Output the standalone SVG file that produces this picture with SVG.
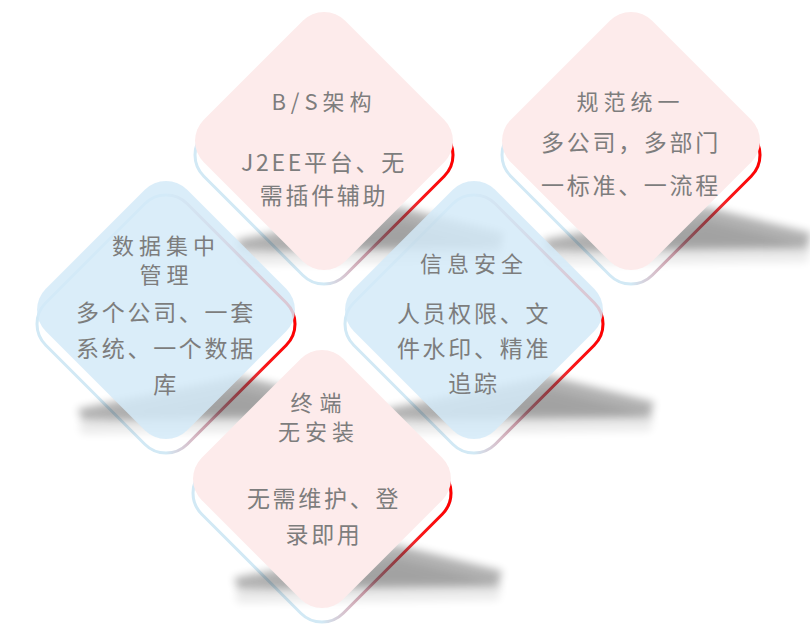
<svg xmlns="http://www.w3.org/2000/svg" xmlns:xlink="http://www.w3.org/1999/xlink" width="810" height="640" viewBox="0 0 810 640">
<style>
.t{font-family:"Noto Sans CJK SC","Noto Sans",sans-serif;fill:#7d7d7d;text-anchor:middle}
.ti{font-size:22px;letter-spacing:5px}
.tw{font-size:22px;letter-spacing:7px}
.b{font-size:23px;letter-spacing:2.7px}
.pk{fill:#fdebeb}
.bl{fill:#d3eaf8;fill-opacity:0.85}
.bk{fill:#ffffff;stroke:#d2e9f5;stroke-width:3}
.rd{fill:none;stroke:url(#rg);stroke-width:3}
.sh{fill:#000;opacity:0.3;filter:url(#blur)}
.sh2{fill:#000;opacity:0.08;filter:url(#blur)}
</style>
<defs>
<path id="dm" d="M-21.21,-120.21 A30,30 0 0 1 21.21,-120.21 L120.21,-21.21 A30,30 0 0 1 120.21,21.21 L21.21,120.21 A30,30 0 0 1 -21.21,120.21 L-120.21,21.21 A30,30 0 0 1 -120.21,-21.21 Z"/>
<path id="shp" d="M-88,99 L75,66 L180,92 L176,107 L-84,110 Z"/>
<linearGradient id="rg" gradientUnits="userSpaceOnUse" x1="0" y1="0" x2="130" y2="0">
<stop offset="0" stop-color="#ff0000" stop-opacity="0"/>
<stop offset="0.35" stop-color="#e01a2a" stop-opacity="0.35"/>
<stop offset="0.75" stop-color="#ff0000" stop-opacity="0.9"/>
<stop offset="1" stop-color="#ff0000" stop-opacity="1"/>
</linearGradient>
<filter id="blur" x="-20%" y="-80%" width="140%" height="260%"><feGaussianBlur stdDeviation="4"/></filter>
</defs>

<g id="bases">
<g id="base-data" transform="translate(166,324)"><use xlink:href="#dm" class="bk"/><use xlink:href="#dm" class="rd"/></g>
<g id="base-security" transform="translate(474,324)"><use xlink:href="#dm" class="bk"/><use xlink:href="#dm" class="rd"/></g>
<g id="base-bs" transform="translate(324,155)"><use xlink:href="#dm" class="bk"/><use xlink:href="#dm" class="rd"/></g>
<g id="base-standard" transform="translate(631,155)"><use xlink:href="#dm" class="bk"/><use xlink:href="#dm" class="rd"/></g>
<g id="base-terminal" transform="translate(322,493)"><use xlink:href="#dm" class="bk"/><use xlink:href="#dm" class="rd"/></g>
</g>

<g id="shadows">
<g transform="translate(166,310)"><use xlink:href="#shp" class="sh2" y="14"/><use xlink:href="#shp" class="sh"/></g>
<g transform="translate(474,310)"><use xlink:href="#shp" class="sh2" y="14"/><use xlink:href="#shp" class="sh"/></g>
<g transform="translate(324,141)"><use xlink:href="#shp" class="sh2" y="14"/><use xlink:href="#shp" class="sh"/></g>
<g transform="translate(631,141)"><use xlink:href="#shp" class="sh2" y="14"/><use xlink:href="#shp" class="sh"/></g>
<g transform="translate(322,479)"><use xlink:href="#shp" class="sh2" y="14"/><use xlink:href="#shp" class="sh"/></g>
</g>

<g id="node-data">
<use xlink:href="#dm" class="bl" transform="translate(166,310)"/>
<text class="t ti" x="166" y="254">数据集中</text>
<text class="t ti" x="166.5" y="283">管理</text>
<text class="t b" x="166" y="321">多个公司、一套</text>
<text class="t b" x="166" y="357">系统、一个数据</text>
<text class="t b" x="166" y="392.5">库</text>
</g>

<g id="node-security">
<use xlink:href="#dm" class="bl" transform="translate(474,310)"/>
<text class="t ti" x="474" y="272">信息安全</text>
<text class="t b" x="474" y="321.5">人员权限、文</text>
<text class="t b" x="474" y="356.5">件水印、精准</text>
<text class="t b" x="474" y="391.5">追踪</text>
</g>

<g id="node-bs">
<use xlink:href="#dm" class="pk" transform="translate(324,141)"/>
<text class="t ti" x="324" y="110">B/S架构</text>
<text class="t b" x="324" y="171">J2EE平台、无</text>
<text class="t b" x="324" y="203.5">需插件辅助</text>
</g>

<g id="node-standard">
<use xlink:href="#dm" class="pk" transform="translate(631,141)"/>
<text class="t ti" x="630.5" y="110">规范统一</text>
<text class="t b" x="631" y="151">多公司，多部门</text>
<text class="t b" x="631" y="194">一标准、一流程</text>
</g>

<g id="node-terminal">
<use xlink:href="#dm" class="pk" transform="translate(322,479)"/>
<text class="t tw" x="319.5" y="411">终端</text>
<text class="t ti" x="318.5" y="440">无安装</text>
<text class="t b" x="324" y="506.5">无需维护、登</text>
<text class="t b" x="324" y="542.5">录即用</text>
</g>

<g id="connectors"></g>
</svg>
